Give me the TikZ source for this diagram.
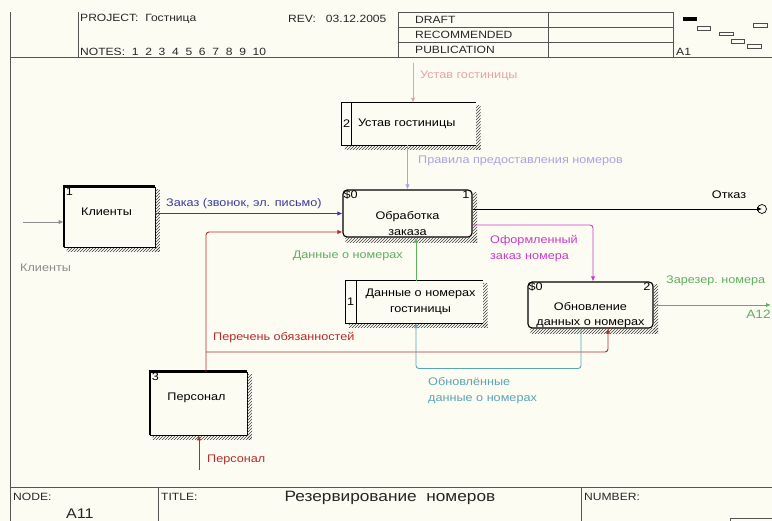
\documentclass[tikz,border=0pt]{standalone}
\usepackage{fontspec}
\setmainfont[FakeStretch=1.15]{Liberation Sans}
\usetikzlibrary{arrows.meta,patterns,calc}

\definecolor{paper}{HTML}{FDFCF3}
\definecolor{frameline}{HTML}{555555}
\definecolor{cgray}{HTML}{8C8C8C}
\definecolor{cblue}{HTML}{3A3AA0}
\definecolor{cred}{HTML}{B52B2B}
\definecolor{cpink}{HTML}{E8A3A3}
\definecolor{clav}{HTML}{A9A3E0}
\definecolor{cgreen}{HTML}{5FAF5F}
\definecolor{cmag}{HTML}{C83CC8}
\definecolor{cteal}{HTML}{5AA5B5}

% hatched drop shadow on the right and bottom of a box
\newcommand\boxshade[1]{%
  \fill[pattern=north east lines, pattern color=black!75]
    ([yshift=-3]#1.north east) rectangle ([xshift=4.5,yshift=-4.5]#1.south east);
  \fill[pattern=north east lines, pattern color=black!75]
    ([xshift=3]#1.south west) rectangle ([xshift=4.5,yshift=-4.5]#1.south east);}

\begin{document}
\begin{tikzpicture}[x=1pt,y=-1pt,
  hdr/.style={font=\fontsize{10.5}{12}\selectfont, text=black!85, inner sep=0pt},
  lbl/.style={font=\fontsize{11}{16}\selectfont, inner sep=0pt, align=left},
  boxtext/.style={font=\fontsize{11}{15.5}\selectfont, inner sep=0pt, align=center},
  numtext/.style={font=\fontsize{11}{12}\selectfont, inner sep=1pt},
  proc/.style={draw, rounded corners=4pt, line width=1.1pt, fill=paper},
  ext/.style={draw, line width=0.8pt, fill=paper},
  store/.style={fill=paper},
  arr/.style={-{Latex[length=5pt,width=4.5pt]}, line width=0.9pt, rounded corners=3pt},
  frm/.style={draw=frameline, line width=0.9pt}
]
\fill[paper] (0,0) rectangle (772,521);
\useasboundingbox (0,0) rectangle (772,521);

% ---------- title block: header ----------
\draw[frm] (10,12) -- (10,521);
\draw[frm] (10,57) -- (772,57);
\draw[frm] (78,12) -- (78,57);
\draw[frm] (398,12) -- (398,57);
\draw[frm] (548,12) -- (548,57);
\draw[frm] (673,12) -- (673,57);
\draw[frm] (398,12) -- (673,12);
\draw[frm] (398,27) -- (673,27);
\draw[frm] (398,42) -- (673,42);

\node[hdr, anchor=west] (project) at (80,19) {PROJECT:\ \ Гостница};
\node[hdr, anchor=west] (rev) at (288,19) {REV:\ \ \ 03.12.2005};
\node[hdr, anchor=west] (notes) at (80,52) {NOTES:\ \ 1\ \ 2\ \ 3\ \ 4\ \ 5\ \ 6\ \ 7\ \ 8\ \ 9\ \ 10};
\node[hdr, anchor=west] (draft) at (415,20) {DRAFT};
\node[hdr, anchor=west] (recom) at (415,35) {RECOMMENDED};
\node[hdr, anchor=west] (publ) at (415,50) {PUBLICATION};
\node[hdr, anchor=west] (aone) at (676,52) {A1};

% node tree thumbnail
\fill[black] (683,17) rectangle (697,21);
\draw[black!70, line width=0.7pt] (697,26) rectangle (710,30);
\draw[black!70, line width=0.7pt] (719,32) rectangle (733,35);
\draw[black!70, line width=0.7pt] (731,39) rectangle (744,43);
\draw[black!70, line width=0.7pt] (747,44) rectangle (761,48);
\draw[black!70, line width=0.7pt] (753,23) rectangle (767,27);

% ---------- title block: footer ----------
\draw[frm] (10,487) -- (772,487);
\draw[frm] (158,487) -- (158,521);
\draw[frm] (581,487) -- (581,521);
\draw[frm] (730,521) -- (730,518) -- (772,518);
\node[hdr, anchor=west] (nodelbl) at (13,497) {NODE:};
\node[hdr, anchor=west, font=\fontsize{14}{15}\selectfont] (nodeval) at (66,514) {A11};
\node[hdr, anchor=west] (titlelbl) at (161,497) {TITLE:};
\node[hdr, font=\fontsize{15}{16}\selectfont] (title) at (390,498) {Резервирование\ \ номеров};
\node[hdr, anchor=west] (numlbl) at (584,497) {NUMBER:};

% ---------- boxes ----------
% external entities
\node[ext, minimum width=91, minimum height=60] (kl) at (109.5,217) {};
\boxshade{kl}
\draw[line width=2.2pt] (kl.south west) -- (kl.north west) -- (kl.north east);
\draw[line width=1.6pt] (kl.south west) -- (kl.south east);
\node[numtext, anchor=north west] (kln) at ([xshift=1]kl.north west) {1};
\node[boxtext] (klt) at ([yshift=5,xshift=-3]kl.center) {Клиенты};

\node[ext, minimum width=97, minimum height=63] (per) at (198.5,403.5) {};
\boxshade{per}
\draw[line width=2.2pt] (per.south west) -- (per.north west) -- (per.north east);
\draw[line width=1.6pt] (per.south west) -- (per.south east);
\node[numtext, anchor=north west] (pern) at ([xshift=1]per.north west) {3};
\node[boxtext] (pert) at ([yshift=6,xshift=-2]per.center) {Персонал};

% data stores
\node[store, minimum width=134, minimum height=42] (us) at (409,124) {};
\boxshade{us}
\draw[line width=0.9pt] (us.north east) -- (us.north west) -- (us.south west) -- (us.south east);
\draw[line width=0.9pt] ([xshift=10]us.north west) -- ([xshift=10]us.south west);
\node[numtext, anchor=west] (usn) at (us.west) {2};
\node[boxtext, anchor=west] (ust) at ([xshift=16]us.west) {Устав гостиницы};

\node[store, minimum width=137, minimum height=42] (ds) at (414.5,302) {};
\boxshade{ds}
\draw[line width=0.9pt] (ds.north east) -- (ds.north west) -- (ds.south west) -- (ds.south east);
\draw[line width=0.9pt] ([xshift=11]ds.north west) -- ([xshift=11]ds.south west);
\node[numtext, anchor=west] (dsn) at (ds.west) {1};
\node[boxtext] (dst) at ([xshift=6]ds.center) {Данные о номерах\\гостиницы};

% processes
\node[proc, minimum width=129, minimum height=47] (p1) at (407.5,213.5) {};
\boxshade{p1}
\node[numtext, anchor=north west] (p1c) at (p1.north west) {\$0};
\node[numtext, anchor=north east] (p1n) at ([xshift=-2]p1.north east) {1};
\node[boxtext] (p1t) at ([yshift=-10]p1.center) {Обработка\\заказа};

\node[proc, minimum width=125, minimum height=46] (p2) at (590.5,305) {};
\boxshade{p2}
\node[numtext, anchor=north west] (p2c) at (p2.north west) {\$0};
\node[numtext, anchor=north east] (p2n) at ([xshift=-2]p2.north east) {2};
\node[boxtext] (p2t) at ([yshift=-10]p2.center) {Обновление\\данных о номерах};

% ---------- free ends ----------
\coordinate (klin) at (23,222);
\coordinate (usin) at (413,63);
\coordinate (otk) at (762,209);
\coordinate (zout) at (771,305);
\coordinate (perin) at (199,470);
\coordinate (rb) at (206,352);

% ---------- connectors ----------
\draw[arr, cgray] (klin) -- (klin -| kl.west);
\node[lbl, text=cgray, anchor=west] (klinl) at (20,268) {Клиенты};

\draw[arr, cblue] (kl.east |- p1.west) -- (p1.west);
\node[lbl, text=cblue, anchor=west] (zakl) at (166,204) {Заказ (звонок, эл. письмо)};

\draw[arr, cred] ([xshift=7.5]per.north) |- ([yshift=-18.5]p1.west);
\draw[arr, cred] (rb) -| ([xshift=17.5]p2.south);
\node[lbl, text=cred, anchor=west] (perl) at (213,338) {Перечень обязанностей};

\draw[arr, cpink] (usin) -- (usin |- us.north);
\node[lbl, text=cpink, anchor=west] (usinl) at (420,76) {Устав гостиницы};

\draw[arr, clav] (p1.north |- us.south) -- (p1.north);
\node[lbl, text=clav, anchor=west] (prl) at (418,161) {Правила предоставления номеров};

\draw[arr, black] ([yshift=4.5]p1.east) -- (otk);
\draw[black, line width=0.7pt] (otk) circle (4.5);
\node[lbl, anchor=center] (otkl) at (729,195) {Отказ};

\draw[arr, cgreen] ([xshift=1.5]ds.north) -- ([xshift=1.5]ds.north |- p1.south);
\node[lbl, text=cgreen, anchor=east] (dnl) at (403,256) {Данные о номерах};

\draw[arr, cmag] ([yshift=-11.5]p1.east) -| ([xshift=2.5]p2.north);
\node[lbl, text=cmag, anchor=north west] (ofl) at (490,235) {Оформленный\\заказ номера};

\draw[arr, cgreen] (p2.east) -- (zout);
\node[lbl, text=cgreen, anchor=west] (zrl) at (666,281) {Зарезер.\ номера};
\node[lbl, text=cgreen, anchor=east, font=\fontsize{12}{14}\selectfont] (a12) at (771,314) {A12};

\draw[arr, cteal] ([xshift=-9.5]p2.south) -- ++(0,40) -| ([xshift=1.5]ds.south);
\node[lbl, text=cteal, anchor=north west] (obl) at (428,377) {Обновлённые\\данные о номерах};

\draw[arr, cred] (perin) -- (perin |- per.south);
\node[lbl, text=cred, anchor=west] (perinl) at (207,460) {Персонал};
\end{tikzpicture}
\end{document}
